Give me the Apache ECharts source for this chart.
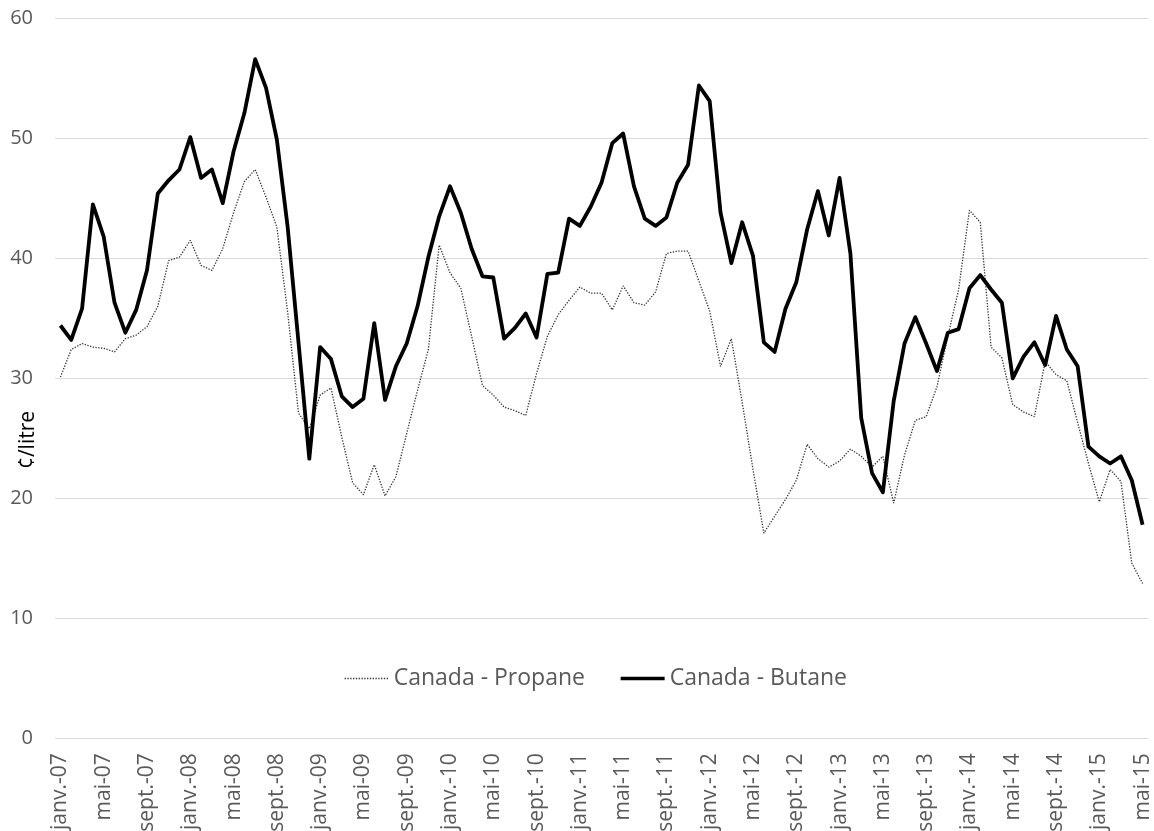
<!DOCTYPE html>
<html>
<head>
<meta charset="utf-8">
<script src="https://cdn.jsdelivr.net/npm/echarts@6/dist/echarts.min.js"></script>
<style>
  html, body { margin: 0; padding: 0; background: #ffffff; }
  #chart { width: 1154px; height: 831px; }
</style>
</head>
<body>
<div id="chart"></div>
<script>
// Monthly Canadian propane and butane prices, January 2007 to May 2015 (¢/litre)
const monthNames = ['janv.', 'févr.', 'mars', 'avr.', 'mai', 'juin', 'juil.', 'août', 'sept.', 'oct.', 'nov.', 'déc.'];
const years = ['07', '08', '09', '10', '11', '12', '13', '14', '15'];
const monthsInLastYear = 5;

const propane = [
  30.1, 32.4, 32.9, 32.6, 32.5, 32.2, 33.3, 33.6, 34.3, 36.0,
  39.8, 40.1, 41.5, 39.4, 39.0, 40.8, 43.8, 46.4, 47.4, 45.1,
  42.6, 35.5, 27.1, 25.8, 28.6, 29.2, 25.1, 21.3, 20.3, 22.8,
  20.2, 21.8, 25.4, 29.0, 32.4, 41.1, 38.8, 37.5, 33.5, 29.4,
  28.6, 27.6, 27.3, 26.9, 30.4, 33.5, 35.3, 36.5, 37.6, 37.1,
  37.1, 35.7, 37.7, 36.3, 36.1, 37.2, 40.4, 40.6, 40.6, 38.1,
  35.6, 31.0, 33.3, 28.0, 22.4, 17.1, 18.5, 19.9, 21.5, 24.5,
  23.3, 22.6, 23.1, 24.1, 23.5, 22.6, 23.5, 19.6, 23.6, 26.5,
  26.8, 29.3, 33.5, 37.4, 44.0, 43.0, 32.6, 31.7, 27.8, 27.2,
  26.8, 31.4, 30.3, 29.8, 26.3, 22.9, 19.7, 22.4, 21.4, 14.6,
  12.9
];

const butane = [
  34.4, 33.2, 35.8, 44.5, 41.8, 36.3, 33.8, 35.7, 39.0, 45.4,
  46.5, 47.4, 50.1, 46.7, 47.4, 44.6, 48.9, 52.1, 56.6, 54.2,
  49.9, 42.6, 33.0, 23.3, 32.6, 31.6, 28.5, 27.6, 28.3, 34.6,
  28.2, 31.0, 32.9, 36.0, 40.1, 43.5, 46.0, 43.8, 40.8, 38.5,
  38.4, 33.3, 34.2, 35.4, 33.4, 38.7, 38.8, 43.3, 42.7, 44.3,
  46.3, 49.6, 50.4, 46.0, 43.3, 42.7, 43.4, 46.3, 47.8, 54.4,
  53.1, 43.8, 39.6, 43.0, 40.2, 33.0, 32.2, 35.8, 38.0, 42.4,
  45.6, 41.9, 46.7, 40.4, 26.7, 22.1, 20.5, 28.1, 32.9, 35.1,
  32.9, 30.6, 33.8, 34.1, 37.5, 38.6, 37.4, 36.3, 30.0, 31.8,
  33.0, 31.1, 35.2, 32.4, 31.0, 24.3, 23.5, 22.9, 23.5, 21.5,
  17.8
];

const seriesNames = ['Canada - Propane', 'Canada - Butane'];
const yTicks = { min: 0, max: 60, step: 10 };
const unitLabel = '¢/litre';

// Category labels such as "janv.-07", one per month
const categories = [];
years.forEach((yy, yi) => {
  const count = yi === years.length - 1 ? monthsInLastYear : 12;
  for (let m = 0; m < count; m++) categories.push(monthNames[m] + '-' + yy);
});

const FONT = '"Open Sans", "Noto Sans", sans-serif';
const GREY_TEXT = '#595959';
const PROPANE_STYLE = { color: '#303030', width: 1.3, type: [1.3, 1.5] };
const BUTANE_STYLE = { color: '#000000', width: 3.8, join: 'round' };

const chart = echarts.init(document.getElementById('chart'), null, { renderer: 'canvas' });

chart.setOption({
  backgroundColor: '#ffffff',
  animation: false,
  grid: {
    left: 55,
    right: 6,
    top: 18.3,
    bottom: 92.7,
    containLabel: false,
    outerBoundsMode: 'none'
  },
  legend: {
    data: [
      { name: seriesNames[0], lineStyle: { width: 1.3, color: '#303030', type: [1.3, 1.5] } },
      { name: seriesNames[1], lineStyle: { width: 3.4, color: '#000000' } }
    ],
    left: 339,
    top: 662,
    itemWidth: 44,
    itemHeight: 12,
    itemGap: 34,
    itemStyle: { opacity: 0 },
    textStyle: { fontFamily: FONT, fontSize: 23, color: GREY_TEXT }
  },
  xAxis: {
    type: 'category',
    data: categories,
    boundaryGap: true,
    axisLine: { show: false },
    axisTick: { show: false },
    axisLabel: {
      interval: 3,
      rotate: 90,
      margin: 15,
      fontFamily: FONT,
      fontSize: 21,
      color: GREY_TEXT
    },
    splitLine: { show: false }
  },
  yAxis: {
    type: 'value',
    min: yTicks.min,
    max: yTicks.max,
    interval: yTicks.step,
    axisLine: { show: false },
    axisTick: { show: false },
    axisLabel: {
      margin: 22,
      fontFamily: FONT,
      fontSize: 20,
      color: GREY_TEXT
    },
    splitLine: { lineStyle: { color: '#d9d9d9', width: 1 } }
  },
  graphic: [{
    type: 'text',
    x: 28,
    y: 440,
    rotation: Math.PI / 2,
    style: {
      text: unitLabel,
      fontFamily: FONT,
      fontSize: 21,
      fill: '#000000',
      align: 'center',
      verticalAlign: 'middle'
    }
  }],
  series: [
    {
      name: seriesNames[0],
      type: 'line',
      data: propane,
      symbol: 'none',
      z: 2,
      lineStyle: PROPANE_STYLE,
      itemStyle: { color: '#303030' }
    },
    {
      name: seriesNames[1],
      type: 'line',
      data: butane,
      symbol: 'none',
      z: 3,
      lineStyle: BUTANE_STYLE,
      itemStyle: { color: '#000000' }
    }
  ]
});
</script>
</body>
</html>
